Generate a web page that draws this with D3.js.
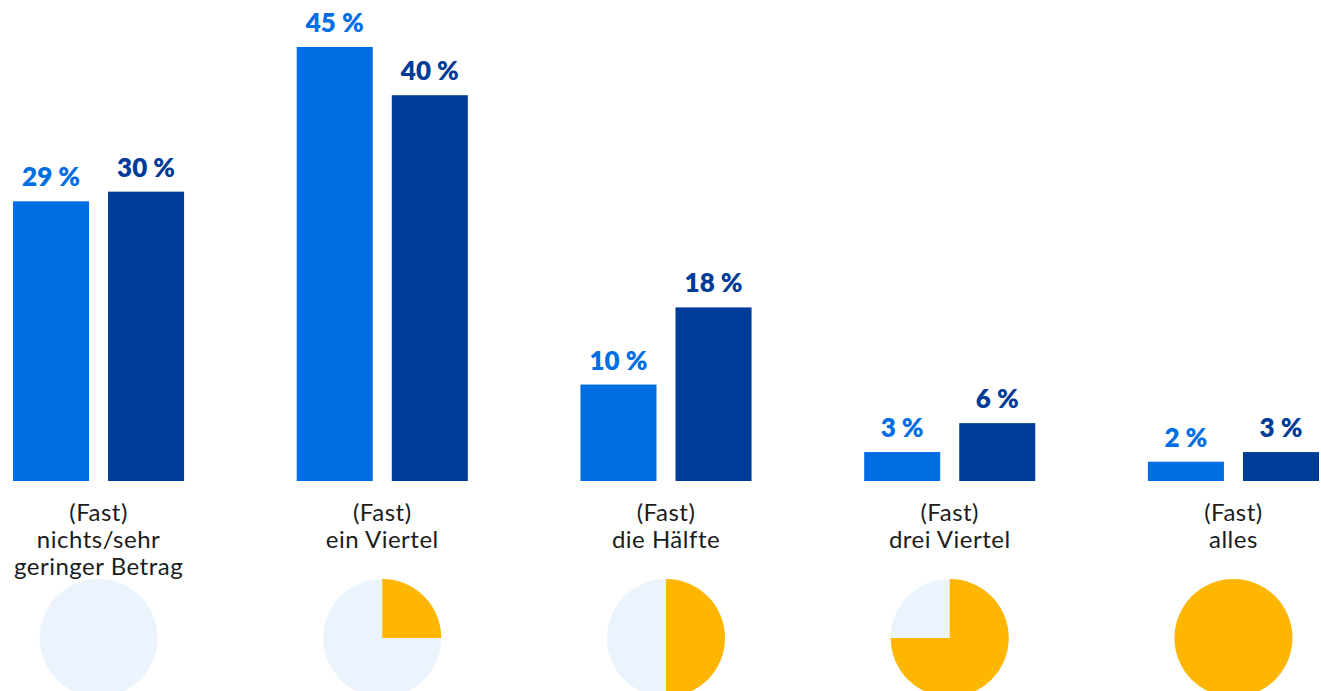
<!DOCTYPE html>
<html lang="de">
<head>
<meta charset="utf-8">
<script src="https://cdn.jsdelivr.net/npm/d3@7"></script>
<style>
  html, body { margin: 0; padding: 0; background: #ffffff; }
  svg { display: block; }
  .value { font-family: Lato, "Open Sans", sans-serif; font-weight: 800; font-size: 26px; }
  .cat { font-family: Lato, "Open Sans", sans-serif; font-size: 24px; letter-spacing: 0.5px; fill: #1c1c1c; }
</style>
</head>
<body>
<svg id="chart" width="1321" height="691"></svg>
<script>
// Categories (multi-line labels) and the share each pie shows
const categories = [
  ["(Fast)", "nichts/sehr", "geringer Betrag"],
  ["(Fast)", "ein Viertel"],
  ["(Fast)", "die Hälfte"],
  ["(Fast)", "drei Viertel"],
  ["(Fast)", "alles"]
];
const pieShares = [0, 0.25, 0.5, 0.75, 1];

// Two series of percentages
const seriesKeys = ["a", "b"];
const seriesA = [29, 45, 10, 3, 2];
const seriesB = [30, 40, 18, 6, 3];

const colors = { a: "#006ee3", b: "#003c97" };
const pieColor = "#ffb600";
const pieBg = "#ebf4fc";

const svg = d3.select("#chart");

const data = categories.map((c, i) => ({ cat: i, a: seriesA[i], b: seriesB[i] }));

const x0 = d3.scaleBand()
  .domain(d3.range(categories.length))
  .range([13, 1319])
  .paddingInner(0.397)
  .paddingOuter(0);

const x1 = d3.scaleBand()
  .domain(seriesKeys)
  .range([0, x0.bandwidth()])
  .paddingInner(0.2)
  .paddingOuter(0);

const y = d3.scaleLinear().domain([0, 45]).range([481, 47]);

const groups = svg.append("g").selectAll("g")
  .data(data)
  .join("g")
  .attr("transform", d => `translate(${x0(d.cat)},0)`);

groups.selectAll("rect")
  .data(d => seriesKeys.map(k => ({ key: k, value: d[k] })))
  .join("rect")
  .attr("x", d => x1(d.key))
  .attr("width", x1.bandwidth())
  .attr("y", d => y(d.value))
  .attr("height", d => y(0) - y(d.value))
  .attr("fill", d => colors[d.key]);

groups.selectAll("text.value")
  .data(d => seriesKeys.map(k => ({ key: k, value: d[k] })))
  .join("text")
  .attr("class", "value")
  .attr("x", d => x1(d.key) + x1.bandwidth() / 2)
  .attr("y", d => y(d.value) - 15)
  .attr("text-anchor", "middle")
  .attr("fill", d => colors[d.key])
  .text(d => `${d.value} %`);

// Category labels below the bars
const labels = svg.append("g").selectAll("text")
  .data(categories)
  .join("text")
  .attr("class", "cat")
  .attr("text-anchor", "middle")
  .attr("x", (d, i) => x0(i) + x0.bandwidth() / 2)
  .attr("y", 521);

labels.selectAll("tspan")
  .data(d => d)
  .join("tspan")
  .attr("x", function () { return d3.select(this.parentNode).attr("x"); })
  .attr("dy", (d, i) => i === 0 ? 0 : 27)
  .text(d => d);

// Pie glyphs showing the fraction
const r = 59;
const arc = d3.arc().innerRadius(0).outerRadius(r);
const pies = svg.append("g").selectAll("g")
  .data(pieShares)
  .join("g")
  .attr("transform", (d, i) => `translate(${x0(i) + x0.bandwidth() / 2},638)`);

pies.append("circle").attr("r", r).attr("fill", pieBg);
pies.filter(d => d > 0).append("path")
  .attr("d", d => arc({ startAngle: 0, endAngle: d * 2 * Math.PI }))
  .attr("fill", pieColor);
</script>
</body>
</html>
